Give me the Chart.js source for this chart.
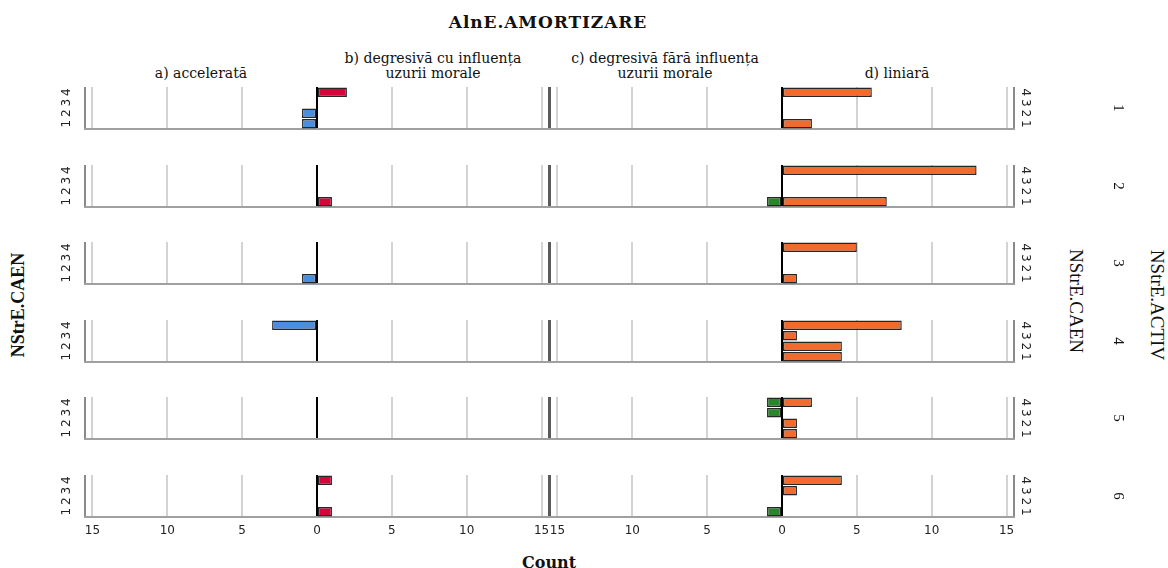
<!DOCTYPE html>
<html lang="ro">
<head>
<meta charset="UTF-8">
<title>AlnE.AMORTIZARE</title>
<script src="https://cdn.jsdelivr.net/npm/chart.js@4.4.1/dist/chart.umd.min.js"></script>
<style>
	body { margin: 0; background: #fff; }
	#wrap { position: relative; width: 1168px; height: 568px; overflow: hidden; color: #111; }
	canvas { position: absolute; }
	.txt { position: absolute; white-space: nowrap; transform: translate(-50%, -50%); }
	.serif { font-family: "DejaVu Serif", serif; }
	.times { font-family: "Liberation Serif", serif; }
	#titlu { left: 548px; top: 22px; font-size: 17px; font-weight: bold; letter-spacing: 0.9px; }
	#count { left: 549px; top: 562px; font-size: 16px; font-weight: bold; }
	.head { position: absolute; bottom: 487px; transform: translateX(-50%); text-align: center; white-space: nowrap;
		font-family: "DejaVu Serif", serif; font-size: 14px; line-height: 15px; }
	.rot-l { transform: translate(-50%, -50%) rotate(-90deg); }
	.rot-r { transform: translate(-50%, -50%) rotate(90deg); }
</style>
</head>
<body>
<div id="wrap">
	<div class="txt serif" id="titlu">AlnE.AMORTIZARE</div>
	<div class="head" style="left:201px">a) accelerată</div>
	<div class="head" style="left:433px">b) degresivă cu influența<br>uzurii morale</div>
	<div class="head" style="left:665px">c) degresivă fără influența<br>uzurii morale</div>
	<div class="head" style="left:897px">d) liniară</div>
	<div class="txt times rot-l" style="left:18px; top:305px; font-size:18px; font-weight:bold">NStrE.CAEN</div>
	<div class="txt times rot-r" style="left:1076px; top:301px; font-size:19px">NStrE.CAEN</div>
	<div class="txt times rot-r" style="left:1157px; top:305px; font-size:19px">NStrE.ACTIV</div>
	<div class="txt serif" id="count">Count</div>
</div>

<script>
// NStrE.CAEN categories (bottom to top) and NStrE.ACTIV facets
const caen = ['1', '2', '3', '4'];
const activ = ['1', '2', '3', '4', '5', '6'];

// counts for each ACTIV facet, one value per CAEN 1..4
const accelerata       = [[1, 1, 0, 0], [0, 0, 0, 0], [1, 0, 0, 0], [0, 0, 0, 3], [0, 0, 0, 0], [0, 0, 0, 0]];
const degCuInfluenta   = [[0, 0, 0, 2], [1, 0, 0, 0], [0, 0, 0, 0], [0, 0, 0, 0], [0, 0, 0, 0], [1, 0, 0, 1]];
const degFaraInfluenta = [[0, 0, 0, 0], [1, 0, 0, 0], [0, 0, 0, 0], [0, 0, 0, 0], [0, 0, 1, 1], [1, 0, 0, 0]];
const liniara          = [[2, 0, 0, 6], [7, 0, 0, 13], [1, 0, 0, 5], [4, 4, 1, 8], [1, 1, 0, 2], [0, 0, 1, 4]];

// Count axis
const countTicks = [-15, -10, -5, 0, 5, 10, 15];
const countMin = -15.5;
const countMax = 15.5;

const colors = { a: '#4a8fdf', b: '#d4053a', c: '#2a862a', d: '#f26a2c' };

// panel geometry
const panelTop0 = 87, panelStep = 77.5, panelH = 42;
const wrap = document.getElementById('wrap');

function gridColor(v, side) {
	if (v === 0) return '#000';
	if (v === countMin) return side === 'left' ? '#8a8a8a' : '#5a5a5a';
	if (v === countMax) return side === 'left' ? '#5a5a5a' : '#8a8a8a';
	return '#d3d3d3';
}

function makeChart(canvas, leftVals, rightVals, leftColor, rightColor, side, last) {
	return new Chart(canvas, {
		type: 'bar',
		data: {
			labels: caen,
			datasets: [
				{ data: leftVals.map(v => v ? -v : null), backgroundColor: leftColor },
				{ data: rightVals.map(v => v ? v : null), backgroundColor: rightColor }
			]
		},
		options: {
			indexAxis: 'y',
			responsive: false,
			animation: false,
			devicePixelRatio: 1,
			layout: {
				padding: side === 'left'
					? { top: 2, right: 2, left: 0, bottom: last ? 0 : 2 }
					: { top: 2, left: 2, right: 0, bottom: last ? 0 : 2 }
			},
			datasets: {
				bar: { borderColor: '#262626', borderWidth: 1.4, borderSkipped: false, barPercentage: 0.9, categoryPercentage: 1 }
			},
			plugins: { legend: { display: false }, tooltip: { enabled: false } },
			scales: {
				x: {
					stacked: true,
					min: countMin,
					max: countMax,
					afterBuildTicks: s => { s.ticks = [countMin, ...countTicks, countMax].map(v => ({ value: v })); },
					afterFit: s => { s.height = last ? 24 : 0; s.paddingLeft = 0; s.paddingRight = 0; },
					ticks: {
						display: last, autoSkip: false, maxRotation: 0, padding: 7, color: '#222',
						font: { family: 'DejaVu Sans', size: 12 },
						callback: v => countTicks.includes(v) ? Math.abs(v) : ''
					},
					grid: {
						drawTicks: false,
						color: c => gridColor(c.tick.value, side),
						lineWidth: 2
					},
					border: { display: true, color: '#a0a0a0', width: 2 }
				},
				y: {
					stacked: true,
					reverse: true,
					position: side,
					afterFit: s => { s.width = side === 'left' ? 35 : 30; s.paddingTop = 0; s.paddingBottom = 0; },
					grid: { display: false, drawTicks: false },
					border: { display: false },
					ticks: {
						autoSkip: false,
						minRotation: side === 'left' ? 90 : -90,
						maxRotation: side === 'left' ? 90 : -90,
						crossAlign: 'center',
						padding: side === 'left' ? 14 : 7,
						color: '#222',
						font: { family: 'DejaVu Sans', size: 12 }
					}
				}
			}
		}
	});
}

activ.forEach((lab, i) => {
	const top = Math.round(panelTop0 + i * panelStep);
	const last = i === activ.length - 1;
	const h = 2 + panelH + (last ? 24 : 2);

	const cl = document.createElement('canvas');
	cl.width = 501; cl.height = h;
	cl.style.left = '50px'; cl.style.top = (top - 2) + 'px';
	wrap.appendChild(cl);
	makeChart(cl, accelerata[i], degCuInfluenta[i], colors.a, colors.b, 'left', last);

	const cr = document.createElement('canvas');
	cr.width = 496; cr.height = h;
	cr.style.left = '548px'; cr.style.top = (top - 2) + 'px';
	wrap.appendChild(cr);
	makeChart(cr, degFaraInfluenta[i], liniara[i], colors.c, colors.d, 'right', last);

	// ACTIV facet label
	const t = document.createElement('div');
	t.className = 'txt times rot-r';
	t.style.left = '1118px';
	t.style.top = (top + panelH / 2) + 'px';
	t.style.fontSize = '15px';
	t.textContent = lab;
	wrap.appendChild(t);
});
</script>
</body>
</html>
